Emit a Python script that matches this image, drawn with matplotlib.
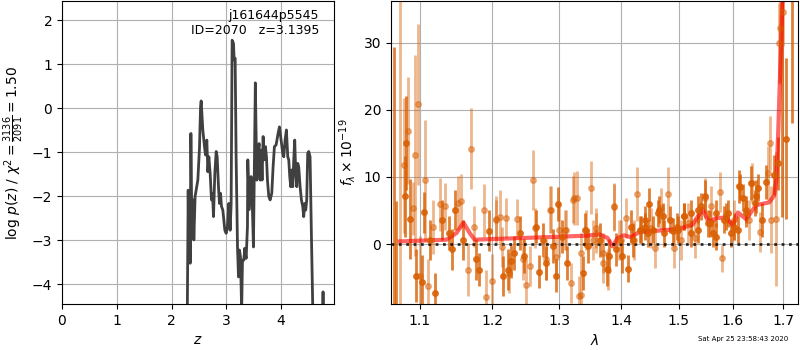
import matplotlib
matplotlib.use('Agg')
from matplotlib import pyplot as plt

# p(z) curve
z_grid = [2.28, 2.304, 2.316, 2.328, 2.34, 2.353, 2.365, 2.377, 2.395, 2.407, 2.43,
          2.48, 2.51, 2.53, 2.541, 2.571, 2.602, 2.62, 2.644, 2.663, 2.681, 2.705,
          2.729, 2.748, 2.766, 2.79, 2.815, 2.833, 2.857, 2.875, 2.894, 2.912, 2.936,
          2.955, 2.973, 2.997, 3.021, 3.046, 3.07, 3.088, 3.106, 3.131, 3.143, 3.161,
          3.179, 3.204, 3.222, 3.24, 3.258, 3.28, 3.295, 3.319, 3.337, 3.362, 3.386,
          3.392, 3.42, 3.453, 3.475, 3.495, 3.53, 3.556, 3.58, 3.599, 3.617, 3.635,
          3.653, 3.672, 3.69, 3.714, 3.733, 3.751, 3.775, 3.8, 3.83, 3.854, 3.878,
          3.909, 3.945, 3.97, 4.0, 4.03, 4.049, 4.073, 4.097, 4.122, 4.14, 4.158,
          4.176, 4.195, 4.213, 4.231, 4.249, 4.267, 4.286, 4.304, 4.322, 4.347, 4.371,
          4.395, 4.413, 4.432, 4.45, 4.468, 4.486, 4.505, 4.529, 4.553, 4.6, 4.755,
          4.766, 4.775]
logp = [-6.0, -1.86, -3.45, -2.08, -3.52, -0.57, -2.0, -2.92, -2.08, -2.99, -2.0,
        -1.63, -0.9, 0.04, 0.17, -0.49, -0.87, -1.06, -0.72, -1.44, -1.1, -1.48,
        -2.08, -1.93, -2.46, -1.48, -0.98, -1.1, -1.78, -2.16, -1.93, -2.23, -2.31,
        -2.54, -2.77, -2.84, -2.69, -2.16, -2.77, -2.16, 1.55, 1.48, 1.1, 1.14,
        -1.1, -3.14, -3.83, -3.22, -3.37, -4.6, -3.45, -3.45, -3.18, -3.41, -2.69,
        -1.17, -2.3, -1.55, -2.2, -3.15, 0.58, -1.63, -0.95, -0.8, -1.63, -0.95,
        -1.63, -0.64, -1.17, -0.87, -1.1, -1.63, -2.0, -2.08, -1.93, -1.33, -0.87,
        -0.83, -0.57, -0.42, -0.72, -1.02, -1.1, -0.72, -0.49, -1.1, -1.17, -1.55,
        -1.78, -1.4, -1.78, -1.17, -0.72, -1.48, -1.78, -1.25, -1.33, -1.78, -2.08,
        -2.23, -2.46, -2.16, -2.31, -2.08, -1.02, -0.98, -1.1, -2.84, -6.0, -6.0,
        -4.17, -6.0]

# spectrum, faint points
wave_a = [1.0748, 1.0791, 1.0848, 1.0913, 1.0935, 1.0978, 1.1, 1.1072, 1.1113, 1.1172,
          1.1271, 1.1339, 1.152, 1.1557, 1.1656, 1.1697, 1.1738, 1.1873, 1.1914, 1.1995,
          1.2055, 1.2105, 1.2195, 1.236, 1.2495, 1.2595, 1.286, 1.3, 1.3081, 1.3183,
          1.3237, 1.3274, 1.3317, 1.3344, 1.3495, 1.3532, 1.3586, 1.3694, 1.3882, 1.3962,
          1.4076, 1.4221, 1.4262, 1.4512, 1.457, 1.4674, 1.4802, 1.4919, 1.5037, 1.516,
          1.5284, 1.5469, 1.5593, 1.5747, 1.579, 1.6026, 1.6322, 1.6375, 1.652, 1.6684,
          1.673, 1.675, 1.6849, 1.6914, 1.6934, 1.7,
          1.2045, 1.2144, 1.2245, 1.2445, 1.2545, 1.262, 1.2795, 1.287, 1.2946, 1.3103,
          1.3211, 1.3346, 1.3427, 1.359, 1.3694, 1.3775, 1.3882, 1.399]
flux_a = [40.0, 11.7, 16.9, 5.3, 13.2, 20.8, -4.8, 9.5, -6.3, 2.5,
          5.9, 5.6, 6.1, 6.4, -3.8, 14.2, 2.6, 5.0, -7.9, -5.5,
          3.7, 4.0, 3.9, 3.7, -6.1, 9.5, 5.1, 2.1, 2.1, -5.8,
          6.8, 6.9, -7.7, -7.6, 8.4, 0.6, 2.4, -1.3, 5.5, 0.6,
          3.9, 0.6, 7.5, 2.4, -0.6, 5.3, 7.5, -0.6, 0.6, 3.1,
          0.9, 6.9, 5.6, 7.8, -2.1, 3.6, 3.6, 9.1, 1.8, 10.6,
          15.0, 3.6, 3.7, 29.9, 32.2, 34.5,
          3.6, -0.4, -4.3, -2.3, -3.3, 2.4, -2.3, 5.1, -1.9, 2.1,
          6.6, -1.3, 2.1, 1.6, -2.8, -3.8, 5.6, 0.6]
err_a = [50.0, 10.0, 8.0, 4.0, 15.0, 12.0, 6.0, 9.0, 4.0, 4.0,
         4.0, 3.5, 4.0, 4.0, 4.0, 6.0, 3.0, 4.0, 4.0, 4.0,
         3.5, 4.0, 3.0, 3.0, 4.0, 4.5, 3.5, 4.0, 3.0, 3.0,
         4.0, 4.0, 3.0, 3.0, 4.0, 3.0, 3.0, 3.0, 3.5, 3.0,
         3.0, 3.0, 4.0, 3.0, 3.0, 3.0, 4.0, 3.0, 3.0, 3.0,
         3.0, 3.0, 3.0, 3.0, 2.0, 3.0, 3.0, 3.0, 3.0, 4.0,
         4.0, 5.0, 10.0, 6.0, 8.0, 5.0,
         3.0, 3.0, 3.0, 3.0, 3.0, 3.0, 3.0, 3.5, 3.0, 3.0,
         3.5, 3.0, 3.0, 3.0, 3.0, 3.0, 3.5, 3.0]

# spectrum, strong points
wave_b = [1.0661, 1.0687, 1.0809, 1.0826, 1.087, 1.0948, 1.1023, 1.1054, 1.1136, 1.1204,
          1.1294, 1.1385, 1.143, 1.1475, 1.1588, 1.177, 1.1814, 1.195, 1.2145, 1.222,
          1.227, 1.232, 1.2395, 1.2455, 1.2635, 1.2685, 1.2755, 1.2795, 1.2895, 1.2945,
          1.298, 1.3038, 1.3113, 1.3371, 1.3398, 1.3452, 1.364, 1.3763, 1.3801, 1.3909,
          1.4017, 1.4105, 1.4163, 1.4337, 1.4395, 1.4453, 1.4628, 1.4727, 1.4843, 1.4977,
          1.5099, 1.5222, 1.5346, 1.5407, 1.5531, 1.5623, 1.5685, 1.584, 1.5901, 1.5963,
          1.6092, 1.6145, 1.6191, 1.6257, 1.6421, 1.6487, 1.6572, 1.6651, 1.6816, 1.6895,
          1.696, 1.7053, 1.7165,
          1.419, 1.431, 1.4395, 1.448, 1.454, 1.4645, 1.4714, 1.4888, 1.497, 1.5098,
          1.5222, 1.5346, 1.547, 1.5562, 1.5686, 1.587, 1.6025, 1.6125, 1.6257, 1.6356,
          1.6456]
flux_b = [-15.0, -12.0, 7.1, 15.1, 3.7, -4.7, -5.6, 4.7, 0.6, -7.3,
          3.6, 1.6, -0.8, 5.1, 0.6, -2.3, -3.8, 2.0, -4.8, -3.8,
          -2.6, -1.3, 1.6, -1.8, 2.6, -4.1, 0.6, -2.8, -0.3, -4.7,
          6.0, 1.1, -2.8, -4.3, 2.1, -0.3, 0.6, -3.7, -1.8, -0.8,
          -1.8, -3.7, 2.6, 2.1, 3.6, 1.6, 4.6, 1.6, 3.6, 2.1,
          4.1, 4.6, 2.1, 5.6, 3.1, 1.6, 4.6, 3.6, 4.6, 1.6,
          2.1, 8.5, 6.9, 4.6, 6.1, 8.4, 3.6, 9.2, 10.3, 12.0,
          45.0, 15.7, 40.0,
          0.6, 2.1, 2.6, 5.9, 2.1, 5.1, 4.1, 1.9, 2.6, 4.1,
          1.6, 5.1, 7.1, 3.1, 1.1, 4.1, 2.6, 8.6, 5.1, 9.1,
          7.1]
err_b = [44.3, 18.4, 6.0, 7.0, 6.0, 4.0, 4.0, 3.0, 3.0, 3.0,
         3.0, 2.5, 3.0, 3.0, 3.0, 3.0, 2.5, 3.0, 3.0, 3.0,
         2.5, 2.5, 2.5, 2.5, 2.5, 2.5, 2.5, 2.5, 2.5, 2.5,
         2.5, 2.5, 2.5, 2.5, 2.5, 2.5, 2.5, 2.5, 2.5, 2.5,
         2.5, 2.0, 2.5, 2.0, 2.0, 2.0, 2.0, 2.0, 2.0, 2.0,
         2.0, 2.0, 2.0, 2.0, 2.0, 2.0, 2.0, 2.0, 2.0, 2.0,
         2.0, 2.0, 2.0, 2.0, 2.0, 2.0, 2.5, 2.5, 3.0, 4.0,
         41.0, 12.0, 22.0,
         2.5, 2.0, 2.0, 2.5, 2.0, 2.0, 2.0, 2.0, 2.0, 2.0,
         2.0, 2.0, 2.5, 2.0, 2.0, 2.0, 2.0, 2.5, 2.0, 2.5,
         2.5]

# best-fit model
wave_model = [1.074, 1.1355, 1.1494, 1.159, 1.1677, 1.1746, 1.2, 1.3, 1.3425, 1.3637,
              1.3773, 1.3855, 1.394, 1.405, 1.4165, 1.4305, 1.4717, 1.5, 1.525, 1.5427,
              1.5548, 1.5687, 1.5876, 1.6, 1.6097, 1.6257, 1.6453, 1.6711, 1.6811, 1.6855,
              1.6893, 1.6947, 1.698, 1.705]
flux_model = [0.39, 0.64, 1.64, 3.2, 1.64, 0.64, 0.74, 1.09, 1.24, 1.44,
              0.9, -0.35, 0.9, 1.3, 1.0, 1.8, 2.04, 2.24, 2.9, 5.2,
              3.2, 3.9, 3.9, 2.8, 4.7, 3.7, 5.8, 6.2, 7.2, 9.7,
              16.7, 29.0, 36.5, 48.0]

lam_ticks = [1.1, 1.2, 1.3, 1.4, 1.5, 1.6, 1.7]
orange = '#d95f02'

fig = plt.figure(figsize=(8, 3.5), dpi=100)
ax1 = fig.add_axes([0.0775, 0.131, 0.34, 0.866])
ax2 = fig.add_axes([0.4885, 0.131, 0.5095, 0.866])

ax1.plot(z_grid, logp, color='#404040', lw=2)
ax1.set_xlim(0, 4.966)
ax1.set_ylim(-4.45, 2.44)
ax1.grid()
ax1.set_xlabel('$z$')
ax1.set_ylabel(r'$\log\,p(z)$ / $\chi^2=\frac{3136}{2091}=1.50$')
ax1.text(0.945, 0.975, 'j161644p5545\nID=2070   z=3.1395', transform=ax1.transAxes,
         ha='right', va='top', fontsize=9)

ax2.errorbar(wave_a, flux_a, yerr=err_a, marker='o', ms=4, ls='none',
             color=orange, alpha=0.45, elinewidth=2)
ax2.errorbar(wave_b, flux_b, yerr=err_b, marker='o', ms=4, ls='none',
             color=orange, alpha=0.8, elinewidth=2)
ax2.plot(wave_model, flux_model, color='r', lw=3, alpha=0.6)
ax2.axhline(0, color='k', ls=':', lw=2, alpha=0.8)
ax2.set_xscale('log')
ax2.set_xticks(lam_ticks)
ax2.set_xticklabels([str(t) for t in lam_ticks])
ax2.minorticks_off()
ax2.set_xlim(1.0625, 1.7306)
ax2.set_ylim(-8.96, 36.2)
ax2.grid()
ax2.set_xlabel(r'$\lambda$')
ax2.set_ylabel(r'$f_\lambda\times10^{-19}$')

fig.text(0.985, 0.03, 'Sat Apr 25 23:58:43 2020', ha='right', va='center', fontsize=5)

fig.savefig('out.png', dpi=100)
